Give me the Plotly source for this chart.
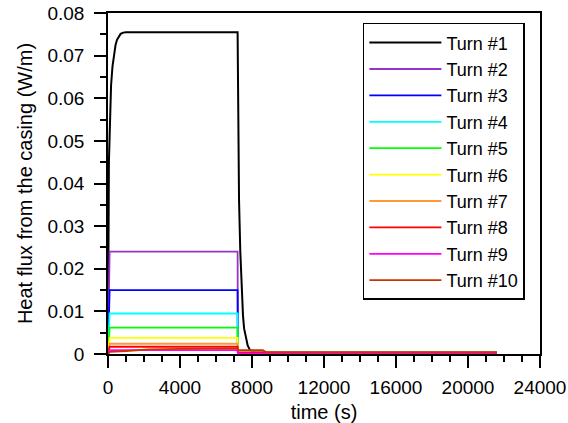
import plotly.graph_objects as go

# ---- data (time in s, heat flux in W/m) ----
names = ["Turn #1", "Turn #2", "Turn #3", "Turn #4", "Turn #5",
         "Turn #6", "Turn #7", "Turn #8", "Turn #9", "Turn #10"]
colors = ["#000000", "#9932CC", "#0000FF", "#00FFFF", "#00FF00",
          "#FFFF00", "#FF9933", "#FF0000", "#FF00FF", "#CC3300"]

t_turn1 = [0, 20, 50, 90, 170, 250, 330, 420, 500, 600, 700, 850, 1000,
           7200, 7210, 7240, 7280, 7350, 7430, 7500, 7560, 7610, 7680,
           7760, 7890, 8000, 8200, 21600]
q_turn1 = [0, 0.030, 0.045, 0.051, 0.063, 0.0675, 0.0706, 0.0725, 0.0737,
           0.0746, 0.0751, 0.0754, 0.0755, 0.0755, 0.070, 0.055, 0.036,
           0.024, 0.015, 0.009, 0.006, 0.0048, 0.0032, 0.002, 0.0009,
           0.0006, 0.0004, 0.0004]

t_step = [0, 90, 7200, 7215, 21600]
q_turn2 = [0, 0.0240, 0.0240, 0.0003, 0.0003]
q_turn3 = [0, 0.0150, 0.0150, 0.0003, 0.0003]
q_turn4 = [0, 0.0095, 0.0095, 0.0003, 0.0003]
q_turn5 = [0, 0.0062, 0.0062, 0.0003, 0.0003]
q_turn6 = [0, 0.0038, 0.0038, 0.0003, 0.0003]
q_turn7 = [0, 0.0024, 0.0024, 0.0003, 0.0003]
q_turn8 = [0, 0.0017, 0.0017, 0.0003, 0.0003]
q_turn9 = [0, 0.0009, 0.0009, 0.0001, 0.0001]

t_turn10 = [0, 90, 1000, 2300, 4000, 7200, 7230, 8600, 8800, 21600]
q_turn10 = [0, 0.0005, 0.0007, 0.0011, 0.0012, 0.0013, 0.0009, 0.0009,
            0.0004, 0.0004]

x_ticks = [0, 4000, 8000, 12000, 16000, 20000, 24000]
y_ticks = [0, 0.01, 0.02, 0.03, 0.04, 0.05, 0.06, 0.07, 0.08]
y_ticklabels = ["0", "0.01", "0.02", "0.03", "0.04", "0.05", "0.06", "0.07", "0.08"]

series = [
    (t_turn1, q_turn1), (t_step, q_turn2), (t_step, q_turn3),
    (t_step, q_turn4), (t_step, q_turn5), (t_step, q_turn6),
    (t_step, q_turn7), (t_step, q_turn8), (t_step, q_turn9),
    (t_turn10, q_turn10),
]

FONT = "Arial, Liberation Sans, sans-serif"

fig = go.Figure()
for name, color, (tx, qy) in zip(names, colors, series):
    fig.add_trace(go.Scatter(
        x=tx, y=qy, mode="lines", name=name,
        line=dict(color=color, width=2 if name == "Turn #1" else 1.8),
    ))

axis_common = dict(
    showgrid=False, zeroline=False, showline=True, linecolor="black",
    linewidth=1.5, mirror=True, ticks="outside", ticklen=12, tickwidth=1.5,
    tickcolor="black", tickfont=dict(family=FONT, size=19, color="black"),
)

fig.update_xaxes(
    range=[0, 24000], tickvals=x_ticks, tickformat="d", ticklabelstandoff=3,
    automargin=False,
    minor=dict(dtick=1000, ticks="outside", ticklen=6, tickwidth=1.5,
               tickcolor="black"),
    title=dict(text="time (s)", font=dict(family=FONT, size=20, color="black")),
    **axis_common,
)
fig.update_yaxes(
    range=[0, 0.08], tickvals=y_ticks, ticktext=y_ticklabels,
    ticklabelstandoff=6, automargin="left",
    minor=dict(dtick=0.005, ticks="outside", ticklen=6, tickwidth=1.5,
               tickcolor="black"),
    title=dict(text="Heat flux from the casing (W/m)",
               font=dict(family=FONT, size=20, color="black"), standoff=9),
    **axis_common,
)

fig.update_layout(
    width=568, height=423,
    margin=dict(l=108, r=28, t=13, b=69),
    paper_bgcolor="white", plot_bgcolor="white",
    showlegend=True,
    legend=dict(
        x=0.59, y=0.971, xanchor="left", yanchor="top",
        bordercolor="black", borderwidth=1.5, bgcolor="white",
        font=dict(family=FONT, size=18, color="black"),
        tracegroupgap=0, itemwidth=72,
    ),
)

fig.write_html("out.html", config={"displayModeBar": False})

# remove the default 8px page margin so the figure sits at the window origin
with open("out.html", "r", encoding="utf-8") as fh:
    html = fh.read()
html = html.replace("<body>", '<body style="margin:0;padding:0;">', 1)
with open("out.html", "w", encoding="utf-8") as fh:
    fh.write(html)
